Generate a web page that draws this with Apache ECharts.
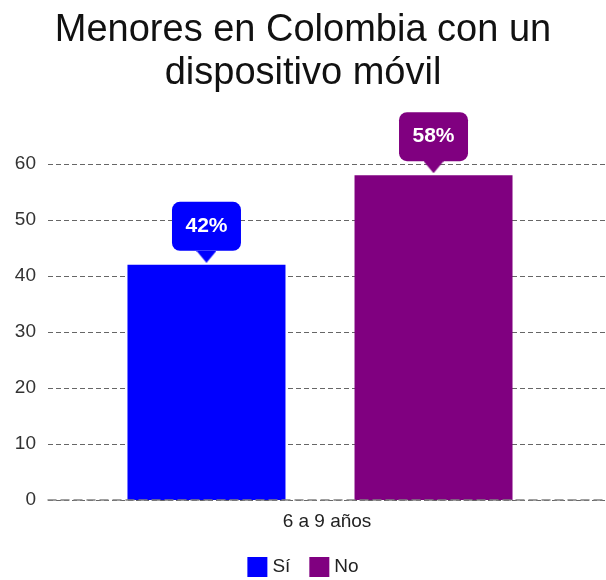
<!DOCTYPE html>
<html>
<head>
<meta charset="utf-8">
<title>Menores en Colombia con un dispositivo móvil</title>
<script src="https://cdn.jsdelivr.net/npm/echarts@6/dist/echarts.min.js"></script>
<style>
  html, body { margin: 0; padding: 0; background: #ffffff; }
  #chart { width: 606px; height: 580px; }
</style>
</head>
<body>
<div id="chart"></div>
<script>
// Chart data
const categories = ['6 a 9 años'];
const seriesNames = ['Sí', 'No'];
const valuesSi = [42];
const valuesNo = [58];
const yTicks = { min: 0, max: 60, interval: 10 };

const BLUE = '#0000ff';
const PURPLE = '#800080';
const FONT = '"Liberation Sans", Arial, sans-serif';

// Small downward-pointing triangle used as the callout pointer
function pointer(color) {
  const c = document.createElement('canvas');
  c.width = 20; c.height = 12;
  const ctx = c.getContext('2d');
  ctx.fillStyle = color;
  ctx.beginPath();
  ctx.moveTo(0, 0);
  ctx.lineTo(20, 0);
  ctx.lineTo(10, 12);
  ctx.closePath();
  ctx.fill();
  return c;
}

function callout(color) {
  return {
    show: true,
    position: 'top',
    distance: 2,
    formatter: '{box|{c}%}\n{arrow|}',
    rich: {
      box: {
        width: 69,
        height: 49,
        lineHeight: 49,
        align: 'center',
        verticalAlign: 'middle',
        backgroundColor: color,
        borderRadius: 8,
        color: '#ffffff',
        fontSize: 21,
        fontWeight: 'bold',
        fontFamily: FONT
      },
      arrow: {
        width: 20,
        height: 12,
        lineHeight: 12,
        align: 'center',
        backgroundColor: { image: pointer(color) }
      }
    }
  };
}

const chart = echarts.init(document.getElementById('chart'), null, { renderer: 'canvas' });

chart.setOption({
  animation: false,
  backgroundColor: '#ffffff',
  title: {
    text: 'Menores en Colombia con un\ndispositivo móvil',
    left: 'center',
    top: 4,
    textStyle: {
      fontSize: 38,
      fontWeight: 'normal',
      lineHeight: 43,
      color: '#111111',
      fontFamily: FONT
    }
  },
  legend: {
    data: seriesNames,
    left: 'center',
    top: 557,
    padding: 0,
    icon: 'rect',
    itemWidth: 20,
    itemHeight: 20,
    itemGap: 19,
    textStyle: { fontSize: 19, color: '#222222', fontFamily: FONT }
  },
  grid: [
    // bars
    { left: 48, right: 14, top: 164, bottom: 80 },
    // full-width gridlines and category label
    { left: 48, right: 0, top: 164, bottom: 80 }
  ],
  xAxis: [
    {
      gridIndex: 0,
      type: 'category',
      data: categories,
      axisLine: { show: false },
      axisTick: { show: false },
      axisLabel: { show: false }
    },
    {
      gridIndex: 1,
      type: 'category',
      data: categories,
      z: 3,
      axisLine: { show: true, lineStyle: { color: '#808080', width: 1.5, type: [8, 5] } },
      axisTick: { show: false },
      axisLabel: { margin: 12, fontSize: 19, color: '#222222', fontFamily: FONT }
    }
  ],
  yAxis: [
    {
      gridIndex: 0,
      type: 'value',
      min: yTicks.min,
      max: yTicks.max,
      interval: yTicks.interval,
      splitLine: { show: false },
      axisLine: { show: false },
      axisTick: { show: false },
      axisLabel: { margin: 12, fontSize: 19, color: '#333333', fontFamily: FONT }
    },
    {
      gridIndex: 1,
      type: 'value',
      min: yTicks.min,
      max: yTicks.max,
      interval: yTicks.interval,
      axisLine: { show: false },
      axisTick: { show: false },
      axisLabel: { show: false },
      splitLine: { show: true, lineStyle: { color: '#666666', width: 1, type: [5, 3] } }
    }
  ],
  series: [
    {
      name: seriesNames[0],
      type: 'bar',
      xAxisIndex: 0,
      yAxisIndex: 0,
      data: valuesSi,
      barWidth: 158,
      barGap: '43.7%',
      itemStyle: { color: BLUE },
      label: callout(BLUE)
    },
    {
      name: seriesNames[1],
      type: 'bar',
      xAxisIndex: 0,
      yAxisIndex: 0,
      data: valuesNo,
      barWidth: 158,
      barGap: '43.7%',
      itemStyle: { color: PURPLE },
      label: callout(PURPLE)
    }
  ]
});
</script>
</body>
</html>
